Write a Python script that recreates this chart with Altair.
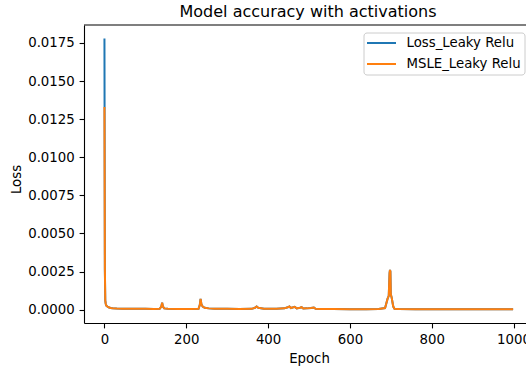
import altair as alt
import pandas as pd

# ---- data ----
epochs = [0, 1, 2, 3, 4, 5, 7, 10, 15, 20, 30, 45, 60, 80, 100, 120, 135, 139, 141, 143, 146,
          155, 180, 210, 230, 233, 235, 237, 240, 245, 255, 270, 300, 330, 360, 368, 372, 376,
          390, 420, 440, 448, 452, 456, 465, 470, 478, 482, 486, 495, 505, 512, 516, 530, 560,
          600, 640, 670, 686, 689, 692, 695, 697, 698, 699, 700, 702, 704, 706, 709, 720, 760,
          800, 850, 900, 950, 999]

loss_values = [0.0178, 0.0026, 0.0006, 0.0004, 0.0003, 0.00025, 0.0002, 0.00015, 0.00011, 0.00009,
               0.00007, 0.00006, 0.00005, 0.00005, 0.00005, 0.00004, 0.00005, 0.0002, 0.00045, 0.0002,
               0.00008, 0.00005, 0.00004, 0.00004, 0.00005, 0.0003, 0.0007, 0.00035, 0.0002, 0.00012,
               0.00008, 0.00006, 0.00005, 0.00004, 0.00005, 0.00012, 0.0002, 0.00012, 0.00005, 0.00006,
               0.00008, 0.00015, 0.0002, 0.0001, 0.00018, 0.00008, 0.00012, 0.00016, 0.00007, 0.00008,
               0.0001, 0.00014, 0.00006, 0.00004, 0.00004, 0.00003, 0.00003, 0.00004, 0.0001, 0.0004,
               0.0007, 0.0009, 0.0024, 0.0026, 0.0025, 0.001, 0.0008, 0.0005, 0.0002, 0.00006,
               0.00004, 0.00003, 0.00003, 0.00003, 0.00003, 0.00003, 0.00003]

msle_values = [0.0133, 0.0028, 0.0006, 0.0004, 0.0003, 0.00025, 0.0002, 0.00015, 0.00011, 0.00009,
               0.00007, 0.00006, 0.00005, 0.00005, 0.00005, 0.00004, 0.00005, 0.0002, 0.00045, 0.0002,
               0.00008, 0.00005, 0.00004, 0.00004, 0.00005, 0.0003, 0.0007, 0.00035, 0.0002, 0.00012,
               0.00008, 0.00006, 0.00005, 0.00004, 0.00005, 0.00012, 0.0002, 0.00012, 0.00005, 0.00006,
               0.00008, 0.00015, 0.0002, 0.0001, 0.00018, 0.00008, 0.00012, 0.00016, 0.00007, 0.00008,
               0.0001, 0.00014, 0.00006, 0.00004, 0.00004, 0.00003, 0.00003, 0.00004, 0.0001, 0.0004,
               0.0007, 0.0009, 0.0024, 0.0026, 0.0025, 0.001, 0.0008, 0.0005, 0.0002, 0.00006,
               0.00004, 0.00003, 0.00003, 0.00003, 0.00003, 0.00003, 0.00003]

series_names = ["Loss_Leaky Relu", "MSLE_Leaky Relu"]
series_colors = ["#1f77b4", "#ff7f0e"]
x_ticks = [0, 200, 400, 600, 800, 1000]
y_ticks = [0.0, 0.0025, 0.005, 0.0075, 0.01, 0.0125, 0.015, 0.0175]
chart_title = "Model accuracy with activations"
x_title = "Epoch"
y_title = "Loss"

# ---- build table ----
n = len(epochs)
df = pd.DataFrame({
    "Epoch": epochs + epochs,
    "Loss": loss_values + msle_values,
    "Series": [series_names[0]] * n + [series_names[1]] * n,
})
one = pd.DataFrame({"k": [0]})

W, H = 442, 298
FONT = "DejaVu Sans"
FS = 13.3

x_enc = alt.X("Epoch:Q",
              scale=alt.Scale(domain=[-50, 1030.5], nice=False, zero=False),
              axis=alt.Axis(values=x_ticks, format="d", title=x_title,
                            labelPadding=4.9, titleX=225, titleY=39,
                            titleBaseline="alphabetic", titleAlign="center"))
y_enc = alt.Y("Loss:Q",
              scale=alt.Scale(domain=[-0.00088, 0.01868], nice=False, zero=False),
              axis=alt.Axis(values=y_ticks, format=".4f", title=y_title,
                            labelPadding=4.9, titleX=-64, titleY=154,
                            titleBaseline="alphabetic", titleAlign="center"))

lines = alt.Chart(df).mark_line(strokeWidth=2, clip=True).encode(
    x=x_enc, y=y_enc,
    color=alt.Color("Series:N", scale=alt.Scale(domain=series_names, range=series_colors),
                    legend=None),
)

top_border = alt.Chart(one).mark_rule(color="black", strokeWidth=1.1).encode(
    x=alt.value(0), x2=alt.value(W), y=alt.value(0))

title_text = alt.Chart(one).mark_text(
    text=chart_title, font=FONT, fontSize=16, color="black", align="center",
    baseline="alphabetic"
).encode(x=alt.value(224), y=alt.value(-8))

legend_box = alt.Chart(one).mark_rect(
    fill="white", fillOpacity=0.8, stroke="#cccccc", strokeWidth=1, cornerRadius=3
).encode(x=alt.value(280), x2=alt.value(441), y=alt.value(8), y2=alt.value(50))

layers = [lines, top_border, title_text, legend_box]
for i, (name, col) in enumerate(zip(series_names, series_colors)):
    yy = 18 + 21 * i
    layers.append(alt.Chart(one).mark_rule(color=col, strokeWidth=2).encode(
        x=alt.value(283), x2=alt.value(312), y=alt.value(yy)))
    layers.append(alt.Chart(one).mark_text(
        text=name, font=FONT, fontSize=FS, color="black", align="left", baseline="middle"
    ).encode(x=alt.value(322.5), y=alt.value(yy)))

chart = alt.layer(*layers).properties(
    width=W, height=H,
    padding={"left": 84, "top": 25, "right": 0, "bottom": 48},
    autosize=alt.AutoSizeParams(type="none"),
).configure_view(stroke=None).configure_axis(
    labelFont=FONT, labelFontSize=FS, labelColor="black",
    titleFont=FONT, titleFontSize=FS, titleFontWeight="normal", titleColor="black",
    domainColor="black", domainWidth=1.1, tickColor="black", tickWidth=1.1,
    tickSize=4.9, grid=False,
)

chart.save("out.html", embed_options={"renderer": "svg", "actions": False})
